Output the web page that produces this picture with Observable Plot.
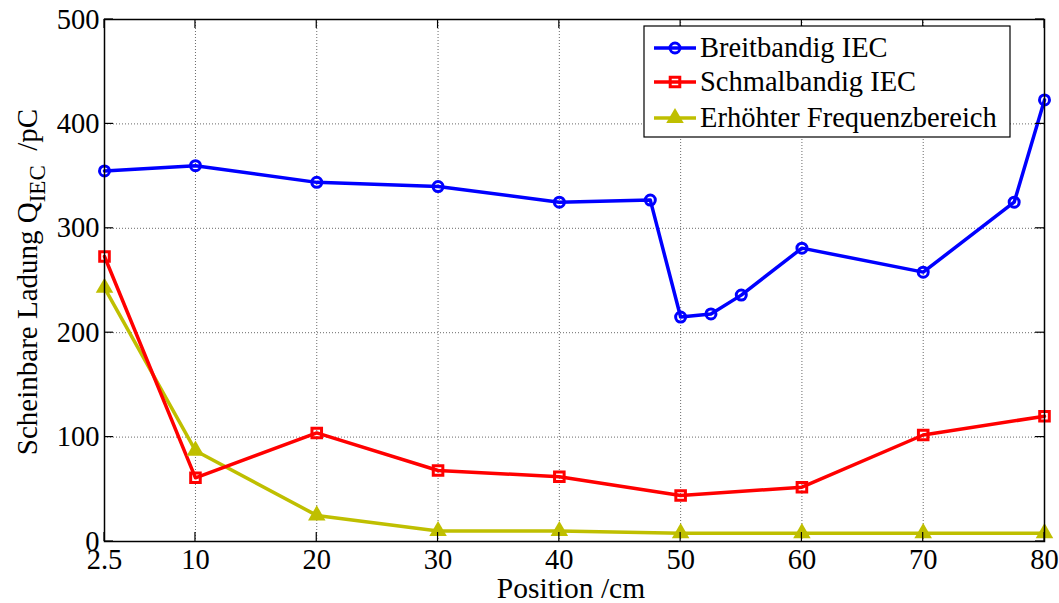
<!DOCTYPE html>
<html>
<head>
<meta charset="utf-8">
<script src="https://cdn.jsdelivr.net/npm/d3@7"></script>
<script src="https://cdn.jsdelivr.net/npm/@observablehq/plot@0.6"></script>
<style>
  html, body { margin: 0; padding: 0; background: #fff; }
  svg { display: block; }
</style>
</head>
<body>
<div id="chart"></div>
<script>
// ---- data ----
const breitPos = [2.5, 10, 20, 30, 40, 47.5, 50, 52.5, 55, 60, 70, 77.5, 80];
const breitVal = [355, 360, 344, 340, 325, 327, 215, 218, 236, 281, 258, 325, 423];
const stdPos = [2.5, 10, 20, 30, 40, 50, 60, 70, 80];
const schmalVal = [273, 61, 104, 68, 62, 44, 52, 102, 120];
const erhoehtVal = [243, 87, 25, 10, 10, 8, 8, 8, 8];
const xTicks = [2.5, 10, 20, 30, 40, 50, 60, 70, 80];
const yTicks = [0, 100, 200, 300, 400, 500];
const seriesNames = ["Breitbandig IEC", "Schmalbandig IEC", "Erhöhter Frequenzbereich"];
const seriesColors = ["#0000ff", "#ff0000", "#bfbf00"];
const xLabel = "Position /cm";

const breit = breitPos.map((x, i) => ({x, y: breitVal[i]}));
const schmal = stdPos.map((x, i) => ({x, y: schmalVal[i]}));
const erhoeht = stdPos.map((x, i) => ({x, y: erhoehtVal[i]}));

const font = "'Liberation Serif', 'Times New Roman', serif";

const chart = Plot.plot({
  width: 1059,
  height: 603,
  marginLeft: 104,
  marginRight: 15,
  marginTop: 19,
  marginBottom: 62,
  style: {fontFamily: font, fontSize: "28px", color: "#000", background: "#fff"},
  x: {domain: [2.5, 80], label: null},
  y: {domain: [0, 500], label: null},
  marks: [
    Plot.gridX(xTicks, {stroke: "#444", strokeOpacity: 0.8, strokeWidth: 1, strokeDasharray: "1,2"}),
    Plot.gridY(yTicks, {stroke: "#444", strokeOpacity: 0.8, strokeWidth: 1, strokeDasharray: "1,2"}),
    Plot.axisX(xTicks, {tickSize: 0, tickPadding: 7, tickFormat: d => String(d), fontSize: 28.5}),
    Plot.axisY(yTicks, {tickSize: 0, tickPadding: 5, tickFormat: d => String(d), fontSize: 28.5}),
    Plot.line(erhoeht, {x: "x", y: "y", stroke: seriesColors[2], strokeWidth: 3.5}),
    Plot.line(schmal, {x: "x", y: "y", stroke: seriesColors[1], strokeWidth: 3.5}),
    Plot.line(breit, {x: "x", y: "y", stroke: seriesColors[0], strokeWidth: 3.5}),
    Plot.dot(erhoeht, {x: "x", y: "y", symbol: "triangle", r: 6.5, fill: seriesColors[2], stroke: "none"}),
    Plot.dot(schmal, {x: "x", y: "y", symbol: "square", r: 5.4, fill: "none", stroke: seriesColors[1], strokeWidth: 3}),
    Plot.dot(breit, {x: "x", y: "y", symbol: "circle", r: 5, fill: "none", stroke: seriesColors[0], strokeWidth: 3}),
    Plot.frame({stroke: "#000", strokeWidth: 1.5})
  ]
});

document.getElementById("chart").appendChild(chart);

const svg = d3.select(chart);
const sx = chart.scale("x"), sy = chart.scale("y");
const x0 = sx.range[0], x1 = sx.range[1];
const y0 = sy.range[0], y1 = sy.range[1]; // y0 bottom, y1 top
const tk = 9;

// inward ticks on all four sides
const tg = svg.append("g").attr("stroke", "#000").attr("stroke-width", 1.2);
xTicks.forEach(v => {
  const px = sx.apply(v);
  tg.append("line").attr("x1", px).attr("x2", px).attr("y1", y0).attr("y2", y0 - tk);
  tg.append("line").attr("x1", px).attr("x2", px).attr("y1", y1).attr("y2", y1 + tk);
});
yTicks.forEach(v => {
  const py = sy.apply(v);
  tg.append("line").attr("y1", py).attr("y2", py).attr("x1", x0).attr("x2", x0 + tk);
  tg.append("line").attr("y1", py).attr("y2", py).attr("x1", x1).attr("x2", x1 - tk);
});

// x axis label
svg.append("text")
  .attr("x", (x0 + x1) / 2 - 3).attr("y", 598)
  .attr("text-anchor", "middle")
  .attr("font-family", font).attr("font-size", 29.5)
  .text(xLabel);

// y axis label with subscript
const yl = svg.append("text")
  .attr("transform", `translate(37,${(y0 + y1) / 2 + 2}) rotate(-90)`)
  .attr("text-anchor", "middle")
  .attr("font-family", font).attr("font-size", 29)
  .attr("xml:space", "preserve");
yl.append("tspan").text("Scheinbare Ladung Q");
yl.append("tspan").attr("dy", 8).attr("font-size", 23).text("IEC");
yl.append("tspan").attr("dy", -8).text("  /pC");

// legend
const lg = svg.append("g");
lg.append("rect").attr("x", 644).attr("y", 26).attr("width", 366).attr("height", 111)
  .attr("fill", "#fff").attr("stroke", "#000").attr("stroke-width", 1.2);
const rowsY = [48, 82, 118];
const symbols = [d3.symbolCircle, d3.symbolSquare, d3.symbolTriangle];
const symR = [5, 5.4, 6.5];
seriesNames.forEach((name, i) => {
  const cy = rowsY[i];
  lg.append("line").attr("x1", 654).attr("x2", 696).attr("y1", cy).attr("y2", cy)
    .attr("stroke", seriesColors[i]).attr("stroke-width", 3.5);
  const p = lg.append("path")
    .attr("transform", `translate(675,${cy})`)
    .attr("d", d3.symbol(symbols[i], Math.PI * symR[i] * symR[i])());
  if (i === 2) p.attr("fill", seriesColors[i]);
  else p.attr("fill", "none").attr("stroke", seriesColors[i]).attr("stroke-width", 3);
  lg.append("text").attr("x", 700).attr("y", cy + 9)
    .attr("text-anchor", "start")
    .attr("font-family", font).attr("font-size", 28.5)
    .text(name);
});
</script>
</body>
</html>
